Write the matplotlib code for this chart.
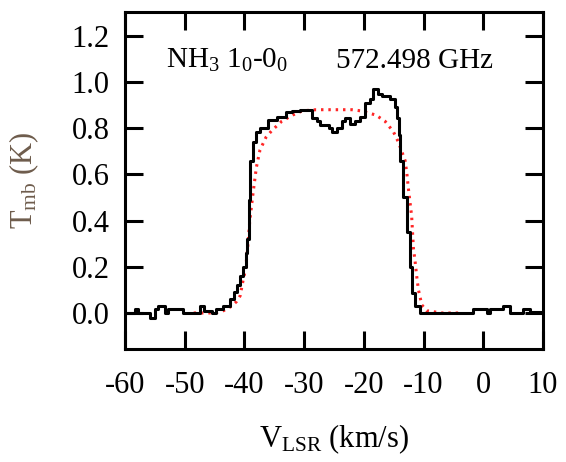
import matplotlib
matplotlib.use("Agg")
import matplotlib.pyplot as plt

plt.rcParams['font.family'] = ['Liberation Serif', 'DejaVu Serif']
plt.rcParams['mathtext.fontset'] = 'custom'
plt.rcParams['mathtext.rm'] = 'Liberation Serif'
plt.rcParams['mathtext.it'] = 'Liberation Serif:italic'
plt.rcParams['axes.unicode_minus'] = False

# observed spectrum (channel left edges, steps-post)
vel = [-60.0, -58.3, -57.8, -55.8, -55.0, -54.5, -53.3, -52.8, -50.3, -47.5,
       -46.7, -45.5, -44.8, -43.6, -42.4, -41.8, -41.3, -40.8, -40.2, -39.8,
       -39.5, -39.3, -39.0, -38.6, -38.0, -37.4, -36.1, -34.6, -33.0, -32.0,
       -30.7, -28.7, -27.9, -27.3, -25.9, -25.4, -24.5, -23.7, -23.15, -22.3,
       -21.5, -20.6, -19.8, -18.96, -18.4, -17.7, -17.0, -15.6, -14.8, -14.5,
       -14.1, -13.9, -13.4, -12.8, -12.3, -12.0, -11.5, -10.6, -1.7, 0.6,
       1.1, 3.3, 4.5, 6.7, 7.8, 10.0]
tmb = [0.0, 0.015, 0.0, -0.02, 0.015, 0.03, 0.0, 0.015, 0.0, 0.03,
       0.01, 0.0, 0.015, 0.03, 0.06, 0.09, 0.12, 0.16, 0.20, 0.26,
       0.32, 0.49, 0.66, 0.74, 0.785, 0.80, 0.835, 0.85, 0.87, 0.875,
       0.88, 0.845, 0.83, 0.815, 0.80, 0.785, 0.80, 0.83, 0.845, 0.82,
       0.83, 0.85, 0.91, 0.925, 0.97, 0.95, 0.94, 0.925, 0.89, 0.845,
       0.77, 0.66, 0.50, 0.35, 0.20, 0.085, 0.03, 0.0, 0.015, 0.0,
       0.015, 0.03, 0.0, 0.015, 0.005, 0.005]

# model fit
vel_fit = [-48.5, -45.0, -43.5, -42.1, -41.3, -40.7, -40.2, -39.8, -39.4, -39.1,
           -38.55, -38.0, -37.4, -36.4, -35.4, -33.75, -31.9, -30.3, -28.0, -25.0,
           -22.0, -20.5, -18.0, -16.45, -15.06, -14.22, -13.66, -13.1, -12.8, -12.55,
           -12.0, -11.7, -11.45, -11.14, -10.86, -10.3, -9.5, -7.0, -4.0]
tmb_fit = [0.0, 0.0, 0.01, 0.03, 0.05, 0.075, 0.145, 0.19, 0.30, 0.40,
           0.52, 0.63, 0.705, 0.76, 0.79, 0.83, 0.857, 0.875, 0.88, 0.88,
           0.88, 0.875, 0.857, 0.83, 0.785, 0.74, 0.70, 0.66, 0.605, 0.54,
           0.42, 0.28, 0.23, 0.157, 0.10, 0.035, 0.01, 0.0, 0.0]

fig = plt.figure(figsize=(5.66, 4.62), dpi=100)
ax = fig.add_axes([0.2208, 0.2446, 0.7386, 0.7294])

ax.plot(vel_fit, tmb_fit, color='red', lw=2.2, linestyle=(0, (0.8, 1.6)), alpha=0.85)
ax.plot(vel, tmb, color='black', lw=2.2, drawstyle='steps-post')

ax.set_xlim(-60, 10)
ax.set_ylim(-0.156, 1.303)
ax.set_xticks(range(-60, 11, 10))
ax.set_yticks([0.0, 0.2, 0.4, 0.6, 0.8, 1.0, 1.2])
ax.set_yticklabels(['0.0', '0.2', '0.4', '0.6', '0.8', '1.0', '1.2'])

for s in ax.spines.values():
    s.set_linewidth(2.2)
ax.tick_params(direction='in', length=13, width=2.2, top=True, right=True,
               labelsize=22)
ax.tick_params(axis='x', pad=16)
ax.tick_params(axis='y', pad=11)

ax.set_xlabel(r"V$_{\rm LSR}$ (km/s)", fontsize=22, labelpad=16)
ax.set_ylabel(r"T$_{\rm mb}$ (K)", fontsize=22, labelpad=22, color='#6e5c4c')

ax.text(0.098, 0.834, r"NH$_3$ 1$_0$-0$_0$", transform=ax.transAxes, fontsize=21)
ax.text(0.505, 0.834, "572.498 GHz", transform=ax.transAxes, fontsize=21)

fig.savefig("out.png", dpi=100)
